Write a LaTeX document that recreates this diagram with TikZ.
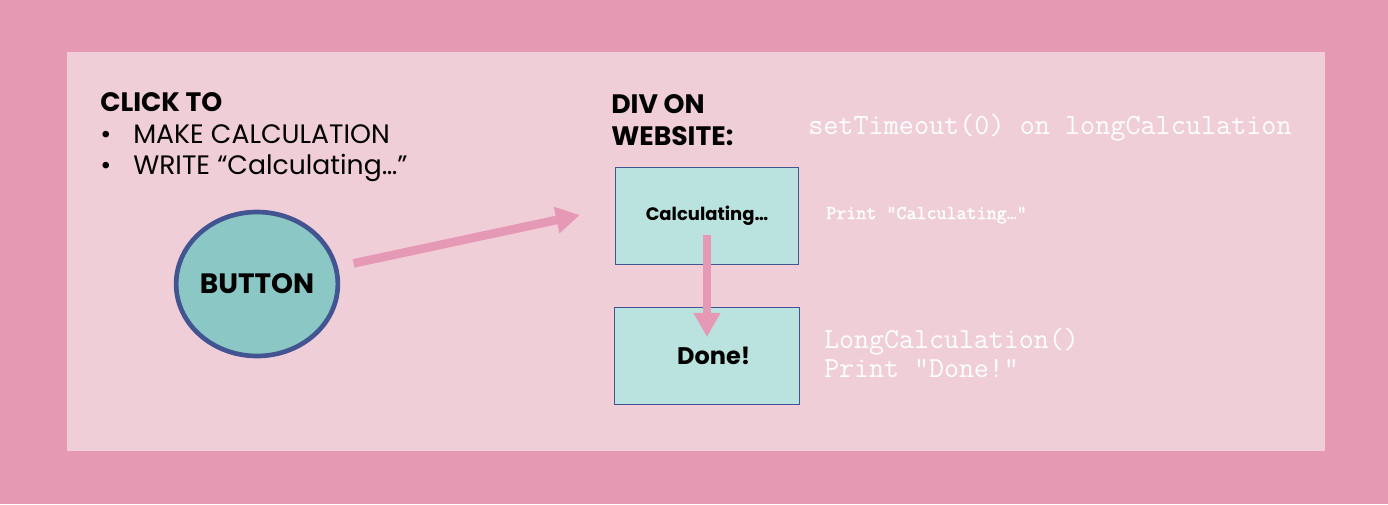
\documentclass[tikz,border=0pt]{standalone}
\usepackage{fontspec}
\setmainfont{Poppins}
\newfontfamily\codebold{Latin Modern Mono}[FakeBold=2]
\usetikzlibrary{arrows.meta,shapes}

\definecolor{outerpink}{RGB}{229,153,179}
\definecolor{innerpink}{RGB}{240,206,216}
\definecolor{arrowpink}{RGB}{230,153,181}
\definecolor{buttonfill}{RGB}{139,200,197}
\definecolor{boxfill}{RGB}{186,226,223}
\definecolor{boxline}{RGB}{66,84,145}

\begin{document}
\begin{tikzpicture}[x=0.75pt,y=-0.75pt,
    heading/.style={anchor=base west,inner sep=0pt,text=black,font=\fontsize{20}{24}\selectfont\bfseries},
    bullet/.style={anchor=base west,inner sep=0pt,text=black,font=\fontsize{20}{24}\selectfont},
    code/.style={anchor=base west,inner sep=0pt,text=white},
    divbox/.style={draw=boxline,fill=boxfill,line width=1.2pt,minimum width=137pt,minimum height=73pt,inner sep=0pt,font=\bfseries},
    flow/.style={-{Triangle[length=18pt,width=19pt]},draw=arrowpink,line width=6.5pt}]
    % background
    \fill[outerpink] (0,0) rectangle (1388,504);
    \fill[innerpink] (67,52) rectangle (1325,451);
    \useasboundingbox (0,0) rectangle (1388,504);

    % left part
    \node[heading](clickto)at(100,111){CLICK TO};
    \node[bullet](make)at(100,143){\makebox[24.75pt][l]{•}MAKE CALCULATION};
    \node[bullet](write)at(100,174){\makebox[24.75pt][l]{•}WRITE “Calculating…”};
    \node[shape=ellipse,draw=boxline,fill=buttonfill,line width=3.5pt,inner sep=0pt,minimum width=118pt,minimum height=108pt,font=\fontsize{21}{25}\selectfont\bfseries](button)at(257,284){BUTTON};

    % right part
    \node[heading](divon)at(611,113){DIV ON};
    \node[heading](website)at(611,145){WEBSITE:};
    \node[divbox,font=\fontsize{13.5}{16}\selectfont\bfseries](calcbox)at(707,216){Calculating…};
    \node[divbox,minimum width=139pt,font=\fontsize{18}{22}\selectfont\bfseries](donebox)at(707,356){\hspace{10pt}Done!};

    \node[code,font=\ttfamily\fontsize{22}{26}\selectfont](timeout)at(808,134){setTimeout(0) on longCalculation};
    \node[code,font=\codebold\fontsize{14.6}{17}\selectfont](printcalc)at(826,219){Print “Calculating…”};
    \node[code,font=\ttfamily\fontsize{21.8}{26}\selectfont](longcalc)at(824,348){LongCalculation()};
    \node[code,font=\ttfamily\fontsize{21.8}{26}\selectfont](printdone)at(824,377){Print “Done!”};

    \coordinate(clickend)at(580,215);
    \draw[flow,shorten <=12pt](button)--(clickend);
    \draw[flow,shorten <=14.6pt,shorten >=14.3pt](calcbox.center)--(donebox.center);
\end{tikzpicture}
\end{document}
